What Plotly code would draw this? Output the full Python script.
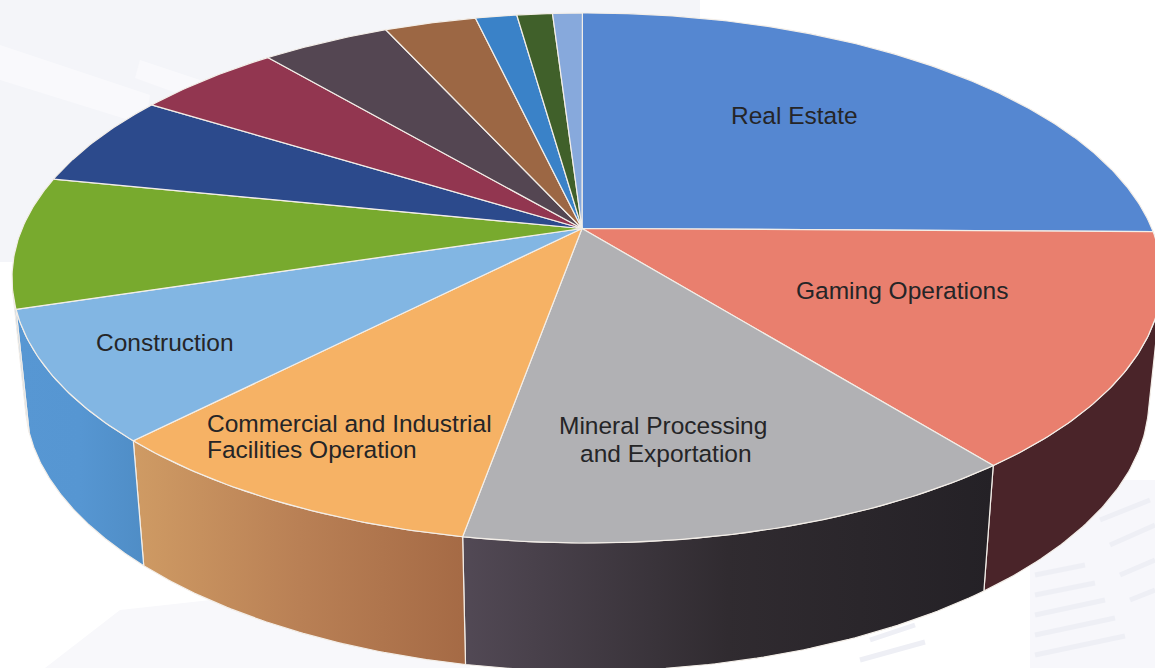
import numpy as np
import plotly.graph_objects as go

# Share of each sector, clockwise from twelve o'clock (percent).
sectors = ["Real Estate", "Gaming Operations", "Mineral Processing and Exportation",
           "Commercial and Industrial Facilities Operation", "Construction",
           "Sector F", "Sector G", "Sector H", "Sector I", "Sector J",
           "Sector K", "Sector L", "Sector M"]
shares = [25.2, 14.2, 13.35, 9.4, 8.0, 8.1, 5.75, 4.95, 4.35, 3.1, 1.4, 1.2, 1.0]
top_colors = ["#5587d1", "#e97f6e", "#b1b1b4", "#f6b265", "#82b6e3", "#78aa2e", "#2c4a8c",
              "#923650", "#544652", "#9c6744", "#3a82c8", "#40602a", "#87a9dc"]
# Side-wall shading, left / middle / right across each visible wall.
wall_left = ["#4a2429", "#4a2429", "#524955", "#cf9b64", "#5797d3"] + ["#5797d3"] * 8
wall_mid = ["#4a2429", "#4a2429", "#302b30", "#b98055", "#5696d2"] + ["#5696d2"] * 8
wall_right = ["#4a2429", "#4a2429", "#242126", "#a56a45", "#4f8dc6"] + ["#4f8dc6"] * 8

label_lines = ["Real Estate", "Gaming Operations", "Construction",
               "Commercial and Industrial", "Facilities Operation",
               "Mineral Processing", "and Exportation"]
label_x = [794, 902, 165, 205, 205, 663, 666]
label_y = [115, 290, 342, 423, 449, 425, 453]
label_anchor = ["center", "center", "center", "left", "left", "center", "center"]

# Perspective disc: an ellipse on screen with the hub displaced from its centre.
ELL_X, ELL_Y, ELL_A, ELL_B = 587.0, 278.0, 575.0, 265.0
HUB_X, HUB_Y = 582.0, 228.5
WALL_DROP, WALL_DROP_NEAR = 123.0, 5.0
WALL_SHRINK = 0.977

hub = np.array([(HUB_X - ELL_X) / ELL_A, (ELL_Y - HUB_Y) / ELL_B])
r = np.hypot(*hub)
d = hub / r
gamma = 1 / np.sqrt(1 - r * r)


def rim(frac):
    """Project a fraction of the full turn onto the tilted top rim."""
    t = 2 * np.pi * np.asarray(frac)
    u = np.stack([np.sin(t), np.cos(t)], axis=-1)
    du = u @ d
    w = gamma * (1 + r * du)
    par = gamma * (du + r)
    perp = u - du[..., None] * d
    e = (par[..., None] * d + perp) / w[..., None]
    return ELL_X + ELL_A * e[..., 0], ELL_Y - ELL_B * e[..., 1]


def drop(x, y):
    """Matching point on the lower rim; nearer parts of the wall look taller."""
    depth = ((y - ELL_Y) / ELL_B) ** 2
    return ELL_X + (x - ELL_X) * WALL_SHRINK, y + WALL_DROP + WALL_DROP_NEAR * depth


edges = np.concatenate([[0], np.cumsum(shares)]) / sum(shares)
fig = go.Figure()

# Side walls first: only the outward-facing part of each arc is kept.
for i, name in enumerate(sectors):
    f = np.linspace(edges[i], edges[i + 1], 80)
    x, y = rim(f)
    bx, by = drop(x, y)
    tx, ty = np.gradient(x), np.gradient(y)
    facing = tx * (by - y) - ty * (bx - x) < 0
    if facing.sum() < 2:
        continue
    x, y, bx, by = x[facing], y[facing], bx[facing], by[facing]
    fig.add_trace(go.Scatter(
        x=np.concatenate([x, bx[::-1], x[:1]]),
        y=np.concatenate([y, by[::-1], y[:1]]),
        mode="lines", fill="toself", name=name, hoverinfo="name",
        line=dict(color="#f3eee8", width=1.2),
        fillgradient=dict(type="horizontal",
                          colorscale=[[0, wall_left[i]], [0.5, wall_mid[i]], [1, wall_right[i]]]),
        showlegend=False))

# Top faces.
for i, name in enumerate(sectors):
    f = np.linspace(edges[i], edges[i + 1], max(int(shares[i] * 6), 12))
    x, y = rim(f)
    fig.add_trace(go.Scatter(
        x=np.concatenate([[HUB_X], x, [HUB_X]]),
        y=np.concatenate([[HUB_Y], y, [HUB_Y]]),
        mode="lines", fill="toself", fillcolor=top_colors[i], name=name, hoverinfo="name",
        line=dict(color="#f3eee8", width=1.2),
        showlegend=False))

for text, lx, ly, anchor in zip(label_lines, label_x, label_y, label_anchor):
    fig.add_annotation(x=lx, y=ly, text=text, showarrow=False,
                       xanchor=anchor, yanchor="middle",
                       font=dict(family="Liberation Sans", size=24.5, color="#252527"))

# Pale printed backdrop behind the disc.
backdrop = [
    dict(type="rect", x0=0, x1=700, y0=0, y1=262, fillcolor="#f4f5f9", line_width=0),
    dict(type="path", path="M 0 45 L 150 95 L 145 125 L 0 80 Z", fillcolor="#f9f9fc", line_width=0),
    dict(type="path", path="M 140 60 L 215 85 L 190 98 L 135 78 Z", fillcolor="#f9f9fc", line_width=0),
    dict(type="path", path="M 45 668 L 120 610 L 300 590 L 470 640 L 470 668 Z",
         fillcolor="#f8f8fb", line_width=0),
    dict(type="rect", x0=1030, x1=1155, y0=480, y1=668, fillcolor="#f7f7fb", line_width=0),
]
stripes = [(1035, 575, 1085, 565), (1035, 595, 1095, 583), (1035, 615, 1105, 600),
           (1035, 635, 1115, 618), (1035, 655, 1125, 636), (1100, 520, 1150, 500),
           (1110, 545, 1155, 525), (1120, 575, 1155, 560), (1130, 600, 1155, 590),
           (870, 640, 915, 625), (860, 660, 925, 642)]
for x0, y0, x1, y1 in stripes:
    backdrop.append(dict(type="line", x0=x0, y0=y0, x1=x1, y1=y1,
                         line=dict(color="#eeeff5", width=5)))

fig.update_layout(
    width=1155, height=668, autosize=False,
    margin=dict(l=0, r=0, t=0, b=0),
    paper_bgcolor="#ffffff", plot_bgcolor="#ffffff",
    xaxis=dict(range=[0, 1155], visible=False, fixedrange=True),
    yaxis=dict(range=[668, 0], visible=False, fixedrange=True),
    shapes=[dict(s, layer="below") for s in backdrop],
)
fig.write_html("out.html", config=dict(displayModeBar=False))
